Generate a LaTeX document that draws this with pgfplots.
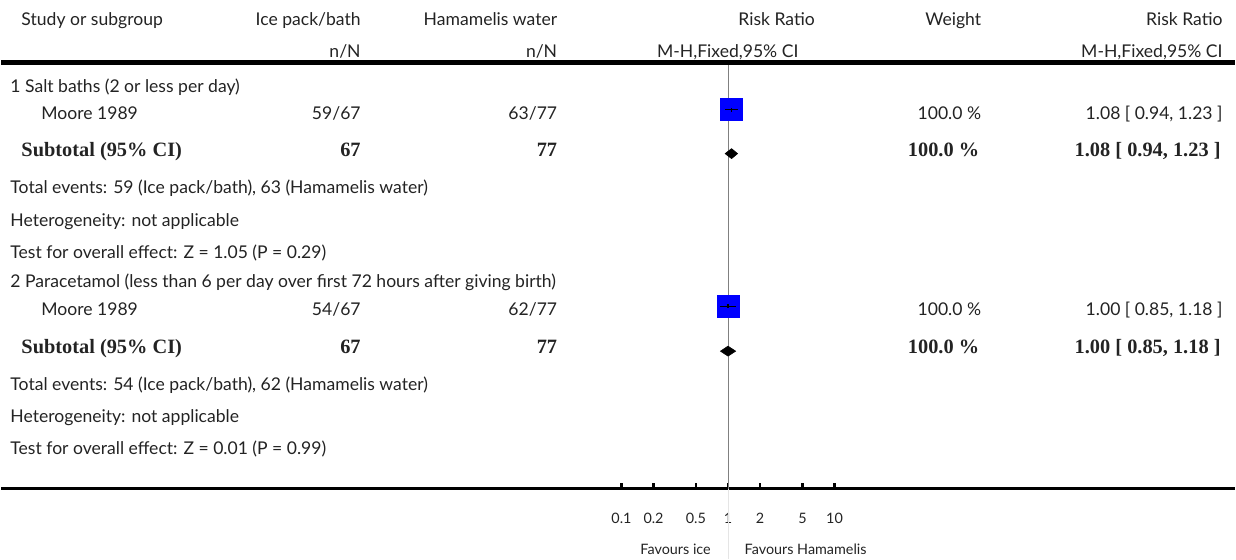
\documentclass[border=0pt]{standalone}
\usepackage{fontspec}
\setmainfont{Lato}
\newfontfamily\bserif{Liberation Serif}
\usepackage{pgfplots}
\pgfplotsset{compat=1.18}
\definecolor{boxblue}{RGB}{0,0,255}
\definecolor{txt}{RGB}{35,35,35}
\newcommand{\B}[1]{{\bserif\bfseries\fontsize{10.2}{12}\selectfont #1}}
\newcommand{\sm}{\fontsize{7.2}{8}\selectfont}
\begin{document}
\begin{tikzpicture}[font=\fontsize{8.8}{10}\selectfont]
\begin{axis}[
  at={(0pt,-245pt)}, anchor=south west,
  scale only axis, width=618pt, height=245pt,
  xmode=log, xmin=1.517e-7, xmax=56754,
  ymin=70, ymax=560,
  axis x line=bottom, axis y line=none,
  x axis line style={-, line width=1.5pt, black},
  xtick={0.1,0.2,0.5,1,2,5,10},
  xticklabels={0.1,0.2,0.5,1,2,5,10},
  minor xtick={},
  tick align=inside,
  major tick length=3pt,
  every tick/.style={black, line width=1.3pt},
  xticklabel style={anchor=base, yshift=-17.5pt, inner sep=0pt, text=txt, font=\sm},
  clip=false,
  clip marker paths=true,
]
% reference line
\draw[black!50, line width=0.5pt] (axis cs:1,70) -- (axis cs:1,498);
\draw[black!10, line width=0.5pt] (axis cs:1,70) -- (axis cs:1,0);
% study boxes (weight 100%)
\addplot[only marks, mark=square*, mark size=5.5pt, mark options={fill=boxblue, draw=boxblue}] coordinates {(1.08,450) (1.00,253)};
% confidence intervals
\addplot[black, line width=0.75pt] coordinates {(0.94,450) (1.23,450)};
\addplot[black, line width=0.75pt] coordinates {(1.08,448) (1.08,452)};
\addplot[black, line width=0.75pt] coordinates {(0.85,253) (1.18,253)};
\addplot[black, line width=0.75pt] coordinates {(1.00,251) (1.00,255)};
% subtotal diamonds
\addplot[fill=black, draw=black, line width=0.3pt] coordinates {(0.94,406) (1.08,411) (1.23,406) (1.08,401)} -- cycle;
\addplot[fill=black, draw=black, line width=0.3pt] coordinates {(0.85,208) (1.00,213) (1.18,208) (1.00,203)} -- cycle;
\end{axis}
\begin{scope}[x=0.5pt, y=-0.5pt, every node/.style={inner sep=0pt, outer sep=0pt, text=txt}]
\useasboundingbox (0,0) rectangle (1236,560);
\draw[line width=2.5pt] (0,62.5) -- (1236,62.5);
% header
\node[anchor=base west] at (20,26) {Study or subgroup};
\node[anchor=base east] at (360,26) {Ice pack/bath};
\node[anchor=base east] at (360,58) {n/N};
\node[anchor=base east] at (557,26) {Hamamelis water};
\node[anchor=base east] at (557,58) {n/N};
\node[anchor=base] at (777,26) {Risk Ratio};
\node[anchor=base] at (728,58) {M-H,Fixed,95\% CI};
\node[anchor=base east] at (982,26) {Weight};
\node[anchor=base east] at (1224,26) {Risk Ratio};
\node[anchor=base east] at (1224,58) {M-H,Fixed,95\% CI};
% group 1
\node[anchor=base west] at (9,93) {1 Salt baths (2 or less per day)};
\node[anchor=base west] at (40,120) {Moore 1989};
\node[anchor=base east] at (360,120) {59/67};
\node[anchor=base east] at (557,120) {63/77};
\node[anchor=base east] at (982,120) {100.0 \%};
\node[anchor=base east] at (1224,120) {1.08 [ 0.94, 1.23 ]};
\node[anchor=base west] at (20,157) {\B{Subtotal (95\% CI)}};
\node[anchor=base east] at (360,157) {\B{67}};
\node[anchor=base east] at (557,157) {\B{77}};
\node[anchor=base east] at (980,157) {\B{100.0 \%}};
\node[anchor=base east] at (1222,157) {\B{1.08 [ 0.94, 1.23 ]}};
\node[anchor=base west] at (9,194) {Total events: 59 (Ice pack/bath), 63 (Hamamelis water)};
\node[anchor=base west] at (9,227) {Heterogeneity: not applicable};
\node[anchor=base west] at (9,259) {Test for overall effect: Z = 1.05 (P = 0.29)};
% group 2
\node[anchor=base west] at (9,288) {2 Paracetamol (less than 6 per day over first 72 hours after giving birth)};
\node[anchor=base west] at (40,316) {Moore 1989};
\node[anchor=base east] at (360,316) {54/67};
\node[anchor=base east] at (557,316) {62/77};
\node[anchor=base east] at (982,316) {100.0 \%};
\node[anchor=base east] at (1224,316) {1.00 [ 0.85, 1.18 ]};
\node[anchor=base west] at (20,354) {\B{Subtotal (95\% CI)}};
\node[anchor=base east] at (360,354) {\B{67}};
\node[anchor=base east] at (557,354) {\B{77}};
\node[anchor=base east] at (980,354) {\B{100.0 \%}};
\node[anchor=base east] at (1222,354) {\B{1.00 [ 0.85, 1.18 ]}};
\node[anchor=base west] at (9,391) {Total events: 54 (Ice pack/bath), 62 (Hamamelis water)};
\node[anchor=base west] at (9,424) {Heterogeneity: not applicable};
\node[anchor=base west] at (9,456) {Test for overall effect: Z = 0.01 (P = 0.99)};
% footer
\node[anchor=base east, font=\sm] at (711,556) {Favours ice};
\node[anchor=base west, font=\sm] at (745,556) {Favours Hamamelis};
\end{scope}
\end{tikzpicture}
\end{document}
